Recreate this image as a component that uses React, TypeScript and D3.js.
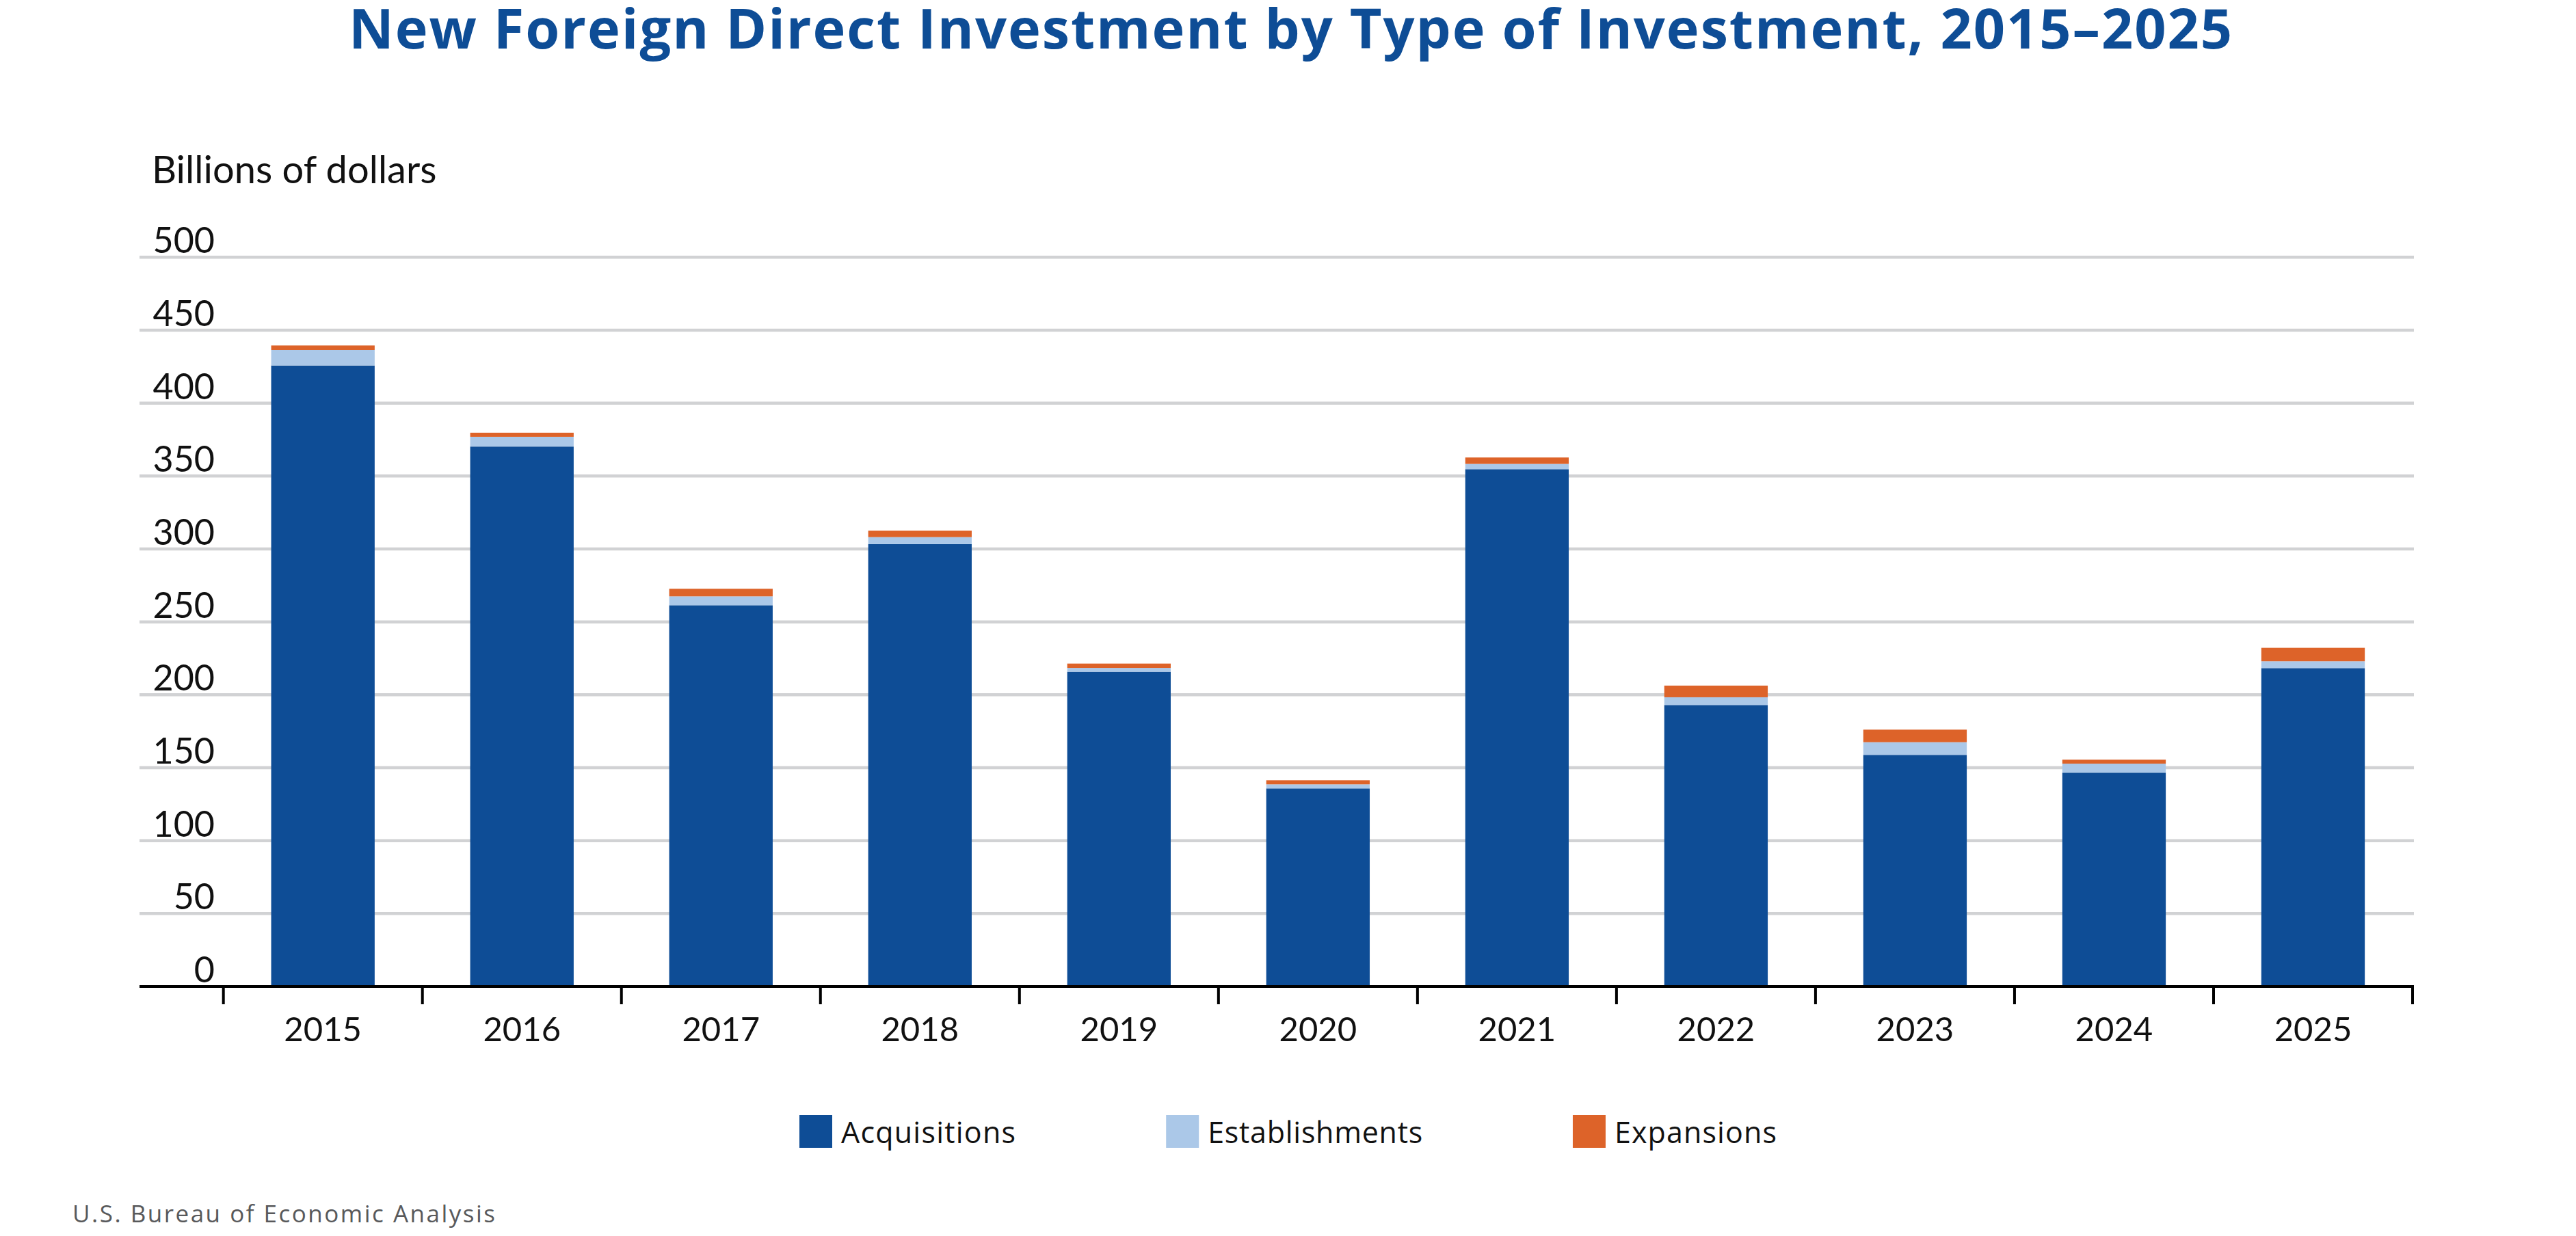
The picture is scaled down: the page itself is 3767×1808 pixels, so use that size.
import * as d3 from 'd3'
import { useEffect, useRef } from 'react'

const years = ['2015', '2016', '2017', '2018', '2019', '2020', '2021', '2022', '2023', '2024', '2025']
const acquisitions = [425.8, 370.2, 261.4, 303.3, 215.8, 135.8, 354.7, 193.0, 158.8, 146.6, 218.3]
const establishments = [10.6, 6.7, 6.1, 4.8, 2.6, 2.8, 3.6, 5.3, 8.7, 6.2, 4.7]
const expansions = [3.1, 2.8, 5.2, 4.4, 3.0, 2.8, 4.4, 8.0, 8.6, 2.7, 9.2]
const seriesNames = ['Acquisitions', 'Establishments', 'Expansions']
const seriesColors = ['#0e4d96', '#abc8e8', '#dd6329']
const yTicks = [0, 50, 100, 150, 200, 250, 300, 350, 400, 450, 500]

const W = 3767
const H = 1808
const FONT = 'Lato, "Open Sans", sans-serif'
const WIDE = '"Open Sans", Lato, sans-serif'

// nudge letter-spacing so a text spans the wanted width
const fitWidth = (t: d3.Selection<SVGTextElement, unknown, null, undefined>, target: number) => {
    const node = t.node()!
    const s = t.text()
    const len = node.getComputedTextLength()
    if (s.length > 1) {
        t.attr('letter-spacing', (target - len) / (s.length - 1))
    }
    return node.getComputedTextLength()
}

const drawChart = (node: SVGSVGElement) => {
    const svg = d3.select(node)
    svg.selectAll('*').remove()

    const gridLeft = 204
    const gridRight = 3530
    const y0 = 1443

    const x = d3.scaleBand<string>()
        .domain(years)
        .range([326.7, 3528])
        .paddingInner(0.48)
        .paddingOuter(0.24)

    const y = d3.scaleLinear()
        .domain([0, 500])
        .range([y0, 376.3])

    const step = x.step()
    const gap = (step - x.bandwidth()) / 2

    // Title
    const title = svg.append('text')
        .attr('x', 510)
        .attr('y', 71)
        .attr('font-family', WIDE)
        .attr('font-weight', 700)
        .attr('font-size', 81)
        .attr('fill', '#0e4d96')
        .text('New Foreign Direct Investment by Type of Investment, 2015–2025')
    fitWidth(title as any, 2754)

    svg.append('text')
        .attr('x', 222)
        .attr('y', 268)
        .attr('font-family', FONT)
        .attr('font-size', 56)
        .attr('fill', '#111')
        .text('Billions of dollars')

    // Gridlines
    svg.selectAll('line.grid')
        .data(yTicks.filter(t => t > 0))
        .enter()
        .append('line')
        .attr('class', 'grid')
        .attr('x1', gridLeft)
        .attr('x2', gridRight)
        .attr('y1', d => y(d))
        .attr('y2', d => y(d))
        .attr('stroke', '#d1d2d4')
        .attr('stroke-width', 4.5)

    svg.selectAll('text.ylab')
        .data(yTicks)
        .enter()
        .append('text')
        .attr('class', 'ylab')
        .attr('x', 314)
        .attr('y', d => y(d) - 6)
        .attr('text-anchor', 'end')
        .attr('font-family', FONT)
        .attr('font-size', 52)
        .attr('fill', '#111')
        .text(d => d)

    // Stacked bars
    const rows = years.map((yr, i) => ({
        year: yr,
        Acquisitions: acquisitions[i],
        Establishments: establishments[i],
        Expansions: expansions[i],
    }))
    const stacked = d3.stack<any>().keys(seriesNames)(rows)

    stacked.forEach((layer, li) => {
        svg.append('g')
            .selectAll('rect')
            .data(layer)
            .enter()
            .append('rect')
            .attr('x', d => x(d.data.year)!)
            .attr('width', x.bandwidth())
            .attr('y', d => y(d[1]))
            .attr('height', d => y(d[0]) - y(d[1]))
            .attr('fill', seriesColors[li])
    })

    // X axis
    svg.append('line')
        .attr('x1', gridLeft)
        .attr('x2', gridRight)
        .attr('y1', y0)
        .attr('y2', y0)
        .attr('stroke', '#000')
        .attr('stroke-width', 4)

    const tickXs = years.map(yr => x(yr)! - gap).concat([x(years[years.length - 1])! + x.bandwidth() + gap])
    svg.selectAll('line.xtick')
        .data(tickXs)
        .enter()
        .append('line')
        .attr('class', 'xtick')
        .attr('x1', d => d)
        .attr('x2', d => d)
        .attr('y1', y0)
        .attr('y2', 1469)
        .attr('stroke', '#000')
        .attr('stroke-width', 4)

    svg.selectAll('text.xlab')
        .data(years)
        .enter()
        .append('text')
        .attr('class', 'xlab')
        .attr('x', d => x(d)! + x.bandwidth() / 2)
        .attr('y', 1523)
        .attr('text-anchor', 'middle')
        .attr('font-family', FONT)
        .attr('font-size', 49)
        .attr('fill', '#111')
        .text(d => d)

    // Legend
    const legendWidths = [255, 314, 237]
    let lx = 1169
    seriesNames.forEach((name, i) => {
        svg.append('rect')
            .attr('x', lx)
            .attr('y', 1631)
            .attr('width', 48)
            .attr('height', 48)
            .attr('fill', seriesColors[i])
        const t = svg.append('text')
            .attr('x', lx + 61)
            .attr('y', 1672)
            .attr('font-family', WIDE)
            .attr('font-size', 43)
            .attr('fill', '#111')
            .text(name)
        const len = fitWidth(t as any, legendWidths[i])
        lx = lx + 61 + len + 219
    })

    const source = svg.append('text')
        .attr('x', 106)
        .attr('y', 1788)
        .attr('font-family', WIDE)
        .attr('font-size', 35)
        .attr('fill', '#58595b')
        .text('U.S. Bureau of Economic Analysis')
    fitWidth(source as any, 618)
}

const App = () => {
    const ref = useRef<SVGSVGElement>(null)

    useEffect(() => {
        document.body.style.margin = '0'
        if (ref.current) drawChart(ref.current)
    }, [])

    return (
        <svg ref={ref} width={W} height={H} style={{ display: 'block', background: '#fff' }} />
    )
}

export default App
